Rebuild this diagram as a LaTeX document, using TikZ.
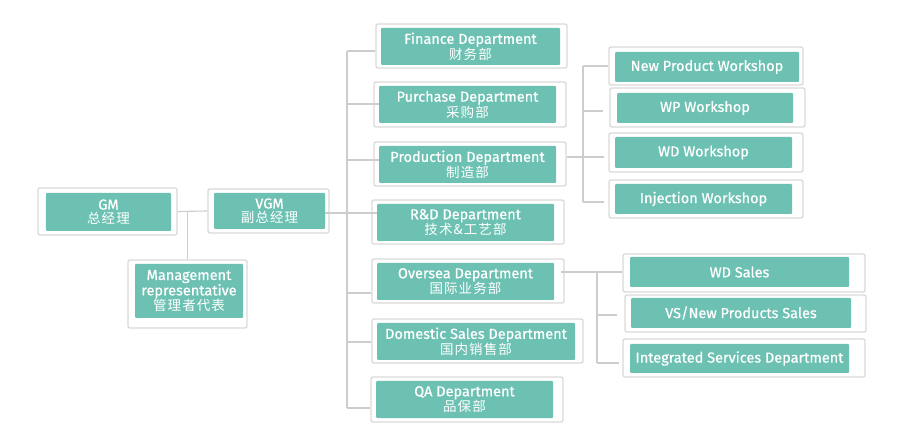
\documentclass[tikz,border=0pt]{standalone}
\usepackage{fontspec}
\setmainfont{Fira Sans}[UprightFeatures={FakeBold=0.6}]
\newfontfamily\cjk{Noto Sans CJK SC}[LetterSpace=8]
\usepackage{tikz}
\usetikzlibrary{positioning}

\definecolor{teal1}{RGB}{109,193,178}
\definecolor{frame1}{RGB}{218,218,218}
\definecolor{wire1}{RGB}{205,205,205}

\tikzset{
  outerbox/.style={draw=frame1, line width=1.4bp, fill=white, rounded corners=2bp, inner sep=0pt},
  innerbox/.style={fill=teal1, rounded corners=1bp, inner sep=0pt, text=white, align=center,
                   font=\fontsize{14.5bp}{14bp}\selectfont},
  wire/.style={draw=wire1, line width=1.1bp}
}
\newcommand{\zh}[1]{{\cjk\fontsize{13.5bp}{14bp}\selectfont #1}}

\begin{document}
\begin{tikzpicture}[x=1bp, y=-1bp]
\useasboundingbox (0,0) rectangle (905,447);

% top level
\node[outerbox, minimum width=139bp, minimum height=47bp] (gmo) at (107.5,211.5) {};
\node[innerbox, minimum width=125bp, minimum height=38bp] (gm) at (108.5,212) {GM\\\zh{总经理}};
\node[outerbox, minimum width=121bp, minimum height=44bp] (vgmo) at (268.5,211) {};
\node[innerbox, minimum width=111bp, minimum height=36bp] (vgm) at (269.5,211) {VGM\\\zh{副总经理}};
\node[outerbox, minimum width=119bp, minimum height=68bp] (mro) at (187.5,294) {};
\node[innerbox, minimum width=108bp, minimum height=54bp, font=\fontsize{14.5bp}{13.5bp}\selectfont] (mr) at (189,291) {Management\\representative\\\zh{管理者代表}};

% departments
\node[outerbox, minimum width=191bp, minimum height=44bp] (fino) at (471.5,46) {};
\node[innerbox, minimum width=179bp, minimum height=37bp] (fin) at (470.5,46.5) {Finance Department\\\zh{财务部}};
\node[outerbox, minimum width=192bp, minimum height=45bp] (puro) at (470,104.5) {};
\node[innerbox, minimum width=177bp, minimum height=37bp] (pur) at (467.5,104.5) {Purchase Department\\\zh{采购部}};
\node[outerbox, minimum width=192bp, minimum height=44bp] (proo) at (470,164) {};
\node[innerbox, minimum width=177bp, minimum height=37bp] (pro) at (467.5,164.5) {Production Department\\\zh{制造部}};
\node[outerbox, minimum width=192bp, minimum height=44bp] (rdo) at (468,222) {};
\node[innerbox, minimum width=177bp, minimum height=37bp] (rd) at (465.5,222.5) {R\&D Department\\\zh{技术\&工艺部}};
\node[outerbox, minimum width=192bp, minimum height=44bp] (ovso) at (468,281) {};
\node[innerbox, minimum width=177bp, minimum height=37bp] (ovs) at (465.5,281.5) {Oversea Department\\\zh{国际业务部}};
\node[outerbox, minimum width=211bp, minimum height=44bp] (domo) at (477.5,341) {};
\node[innerbox, minimum width=198bp, minimum height=37bp] (dom) at (476,341.5) {Domestic Sales Department\\\zh{国内销售部}};
\node[outerbox, minimum width=192bp, minimum height=45bp] (qao) at (467,399.5) {};
\node[innerbox, minimum width=177bp, minimum height=37bp] (qa) at (464.5,399.5) {QA Department\\\zh{品保部}};

% workshops
\node[outerbox, minimum width=194bp, minimum height=38bp] (npo) at (706,66) {};
\node[innerbox, minimum width=184bp, minimum height=30bp] (np) at (707,67) {New Product Workshop};
\node[outerbox, minimum width=195bp, minimum height=39bp] (wpo) at (707.5,107.5) {};
\node[innerbox, minimum width=176bp, minimum height=30bp] (wp) at (705,108) {WP Workshop};
\node[outerbox, minimum width=194bp, minimum height=39bp] (wdo) at (706,152.5) {};
\node[innerbox, minimum width=177bp, minimum height=31bp] (wd) at (703.5,152.5) {WD Workshop};
\node[outerbox, minimum width=194bp, minimum height=38bp] (injo) at (706,199) {};
\node[innerbox, minimum width=177bp, minimum height=30bp] (inj) at (703.5,199) {Injection Workshop};

% sales
\node[outerbox, minimum width=242bp, minimum height=38bp] (wdso) at (744,273) {};
\node[innerbox, minimum width=219bp, minimum height=30bp] (wds) at (739.5,272) {WD Sales};
\node[outerbox, minimum width=241bp, minimum height=37bp] (vso) at (745.5,313.5) {};
\node[innerbox, minimum width=220bp, minimum height=30bp] (vs) at (741,313) {VS/New Products Sales};
\node[outerbox, minimum width=242bp, minimum height=38bp] (iso) at (744,358) {};
\node[innerbox, minimum width=219bp, minimum height=29bp] (is) at (739.5,358.5) {Integrated Services Department};

% junctions
\coordinate (t1) at (347,51);
\coordinate (t2) at (347,104);
\coordinate (t3) at (347,160);
\coordinate (t4) at (347,213);
\coordinate (t5) at (347,293);
\coordinate (t6) at (347,342);
\coordinate (t7) at (347,408);
\coordinate (w1) at (583,66);
\coordinate (w2) at (583,111);
\coordinate (w3) at (583,157);
\coordinate (w4) at (583,202);
\coordinate (s1) at (597,272);
\coordinate (s2) at (597,315);
\coordinate (s3) at (597,363);

\draw[wire] (gmo.east) -- (vgmo.west);
\draw[wire] (gmo.east -| mro.north) -- (mro.north);
\draw[wire] (vgm.east |- t4) -- (t4);

\draw[wire] (t1) -- (t7);
\draw[wire] (t1) -- (t1 -| fino.west);
\draw[wire] (t2) -- (t2 -| pur.west);
\draw[wire] (t3) -- (t3 -| pro.west);
\draw[wire] (t4) -- (t4 -| rd.west);
\draw[wire] (t5) -- (t5 -| ovso.west);
\draw[wire] (t6) -- (t6 -| domo.west);
\draw[wire] (t7) -- (t7 -| qao.west);

\draw[wire] (proo.east |- w3) -- ([xshift=-4bp]w3 -| wdo.west);
\draw[wire] (w1) -- (w4);
\draw[wire] (w1) -- (w1 -| npo.west);
\draw[wire] (w2) -- ([xshift=-6bp]w2 -| wpo.west);
\draw[wire] (w4) -- ([xshift=-4bp]w4 -| injo.west);

\draw[wire] ([xshift=-4bp]ovso.east |- s1) -- (s1 -| wdso.west);
\draw[wire] (s1) -- (s3);
\draw[wire] (s2) -- ([xshift=-7bp]s2 -| vso.west);
\draw[wire] (s3) -- ([xshift=-3bp]s3 -| iso.west);

\end{tikzpicture}
\end{document}
